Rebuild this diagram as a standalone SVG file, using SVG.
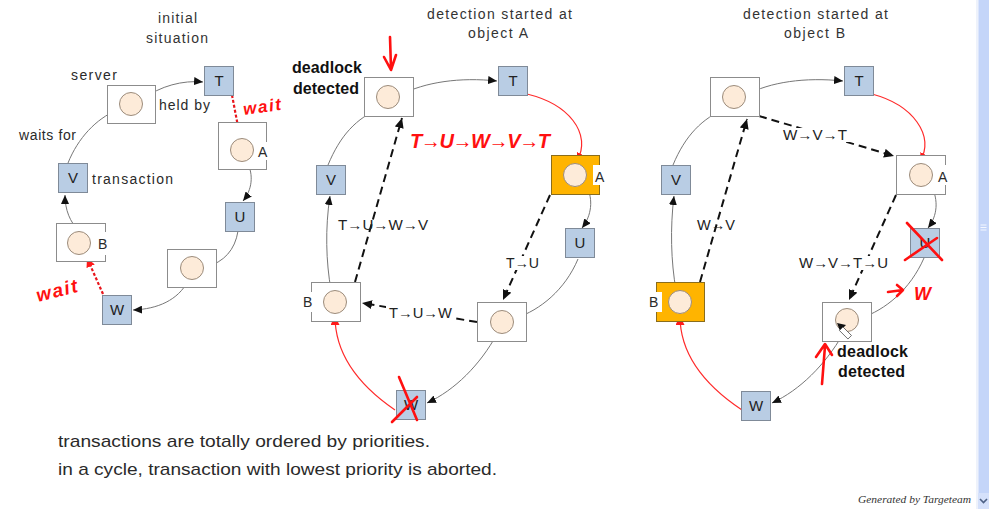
<svg xmlns="http://www.w3.org/2000/svg" width="989" height="509" viewBox="0 0 989 509">
  <style>
    .t { font-family: "Liberation Sans", Arial, sans-serif; fill: #2a2a2a; }
    .title { font-size: 14px; fill: #333; }
    .lbl { font-size: 14px; }
    .bold { font-family: "Liberation Sans", Arial, sans-serif; font-weight: bold; font-size: 16px; fill: #111; }
    .path-lbl { font-family: "Liberation Sans", Arial, sans-serif; font-size: 14px; fill: #222; }
    .srv { fill: #fff; stroke: #8c8c8c; stroke-width: 1; }
    .srv-hot { fill: #ffb400; stroke: #8a6d1c; stroke-width: 1; }
    .obj { fill: #fdebd9; stroke: #9b8b7b; stroke-width: 1; }
    .tx { fill: #b9cde4; stroke: #7f8a98; stroke-width: 1; }
    .txl { font-family: "Liberation Sans", Arial, sans-serif; font-size: 15px; fill: #222; text-anchor: middle; }
    .c { fill: none; stroke: #777; stroke-width: 1; marker-end: url(#ah); }
    .cr { fill: none; stroke: #ff2a2a; stroke-width: 1.2; marker-end: url(#ahr); }
    .dot { fill: none; stroke: #e8161c; stroke-width: 2.2; stroke-dasharray: 3 2; marker-end: url(#ahr); }
    .dash { fill: none; stroke: #111; stroke-width: 2; stroke-dasharray: 8 5; marker-end: url(#ahd); }
    .ink { fill: none; stroke: #ff1010; stroke-width: 2.6; stroke-linecap: round; stroke-linejoin: round; }
    .hand { font-family: "Liberation Sans", Arial, sans-serif; font-style: italic; font-weight: bold; fill: #ff1010; }
  </style>
  <defs>
    <marker id="ah" markerUnits="userSpaceOnUse" markerWidth="10" markerHeight="8" refX="9" refY="4" orient="auto">
      <path d="M0,0 L9,4 L0,8 z" fill="#111"/>
    </marker>
    <marker id="ahr" markerUnits="userSpaceOnUse" markerWidth="10" markerHeight="9" refX="9" refY="4.5" orient="auto">
      <path d="M0,0 L9,4.5 L0,9 z" fill="#ff1a1a"/>
    </marker>
    <marker id="ahd" markerUnits="userSpaceOnUse" markerWidth="11" markerHeight="9" refX="10" refY="4.5" orient="auto">
      <path d="M0,0 L10,4.5 L0,9 z" fill="#111"/>
    </marker>
  </defs>

  <rect x="0" y="0" width="989" height="509" fill="#fff"/>

  <!-- scrollbar -->
  <g id="scrollbar">
    <rect x="976" y="0" width="2" height="509" fill="#eef2fb"/>
    <rect x="978" y="0" width="11" height="509" fill="#c4d5f9"/>
    <rect x="978" y="0" width="1" height="509" fill="#dbe5fc"/>
    <path d="M980.5,225 h6 M980.5,227.5 h6 M980.5,230 h6" stroke="#f4f7ff" stroke-width="1"/>
    <rect x="978" y="493" width="11" height="16" fill="#d5e1fb"/>
    <path d="M980,499 l3.5,3.5 l3.5,-3.5" fill="none" stroke="#4d6185" stroke-width="1.6"/>
  </g>

  <!-- ============ initial situation ============ -->
  <text class="t title" x="158" y="23" textLength="39">initial</text>
  <text class="t title" x="146" y="43" textLength="62">situation</text>

  <g id="connectors-initial">
    <path class="c" d="M143,99 C160,86 183,80 203,82"/>
    <path class="dot" d="M232,95 L240,137"/>
    <path class="c" d="M247,162 C254,175 252,190 243,201"/>
    <path class="c" d="M238,231 C235,250 224,262 206,267"/>
    <path class="c" d="M188,281 C178,300 158,309 133,310"/>
    <path class="dot" d="M103,294 L87,258"/>
    <path class="c" d="M79,231 C70,222 65,210 65,195"/>
    <path class="c" d="M68,163 C78,138 96,119 117,110"/>
  </g>

  <g id="p1-server-top">
    <rect class="srv" x="107.5" y="85.5" width="48" height="38"/>
    <circle class="obj" cx="131" cy="104" r="11.5"/>
  </g>
  <g id="p1-T"><rect class="tx" x="204.5" y="66.5" width="29" height="29"/><text class="txl" x="219" y="86">T</text></g>
  <g id="p1-A">
    <rect class="srv" x="218.5" y="122.5" width="48" height="47"/>
    <rect x="257" y="142" width="12" height="18" fill="#fff"/>
    <circle class="obj" cx="242" cy="150" r="11.5"/>
    <text class="t lbl" x="258" y="157">A</text>
  </g>
  <g id="p1-U"><rect class="tx" x="225.5" y="202.5" width="29" height="29"/><text class="txl" x="240" y="222">U</text></g>
  <g id="p1-server-low">
    <rect class="srv" x="167.5" y="249.5" width="49" height="38"/>
    <circle class="obj" cx="192" cy="268" r="11.5"/>
  </g>
  <g id="p1-W"><rect class="tx" x="102.5" y="295.5" width="29" height="29"/><text class="txl" x="117" y="315">W</text></g>
  <g id="p1-B">
    <rect class="srv" x="56.5" y="223.5" width="49" height="38"/>
    <rect x="96" y="232" width="12" height="23" fill="#fff"/>
    <circle class="obj" cx="79" cy="243" r="11.5"/>
    <text class="t lbl" x="98" y="249">B</text>
  </g>
  <g id="p1-V"><rect class="tx" x="58.5" y="163.5" width="29" height="29"/><text class="txl" x="73" y="183">V</text></g>

  <text class="t lbl" x="71" y="80" textLength="46">server</text>
  <text class="t lbl" x="159" y="110" textLength="51">held by</text>
  <text class="t lbl" x="19" y="140" textLength="57">waits for</text>
  <text class="t lbl" x="92" y="184" textLength="81">transaction</text>

  <text class="hand" x="244" y="115" font-size="17" textLength="38" transform="rotate(-8 244 115)">wait</text>
  <text class="hand" x="38" y="302" font-size="19" textLength="42" transform="rotate(-14 38 302)">wait</text>

  <!-- ============ detection started at object A ============ -->
  <text class="t title" x="427" y="19" textLength="145">detection started at</text>
  <text class="t title" x="468" y="38" textLength="60">object A</text>

  <g id="connectors-a">
    <path class="c" d="M400,95 C425,82 460,77 497,81"/>
    <path class="cr" d="M527,94 C568,104 592,132 577,162"/>
    <path class="c" d="M587,186 C593,200 592,215 582,228"/>
    <path class="c" d="M578,259 C565,290 540,310 516,318"/>
    <path class="c" d="M497,334 C480,365 455,390 427,403"/>
    <path class="cr" d="M395,410 C360,386 335,355 335,316"/>
    <path class="c" d="M331,290 C326,262 325,228 330,196"/>
    <path class="c" d="M328,165 C340,136 356,118 381,108"/>
    <path class="dash" d="M355,282 L402,118"/>
    <path class="dash" d="M550,195 L503,300"/>
    <path class="dash" d="M477,322 L362,303"/>
  </g>

  <g id="p2-server-top">
    <rect class="srv" x="364.5" y="77.5" width="49" height="39"/>
    <circle class="obj" cx="388" cy="97" r="11.5"/>
  </g>
  <g id="p2-T"><rect class="tx" x="498.5" y="66.5" width="29" height="29"/><text class="txl" x="513" y="86">T</text></g>
  <g id="p2-A">
    <rect class="srv-hot" x="551.5" y="155.5" width="48" height="39"/>
    <rect x="593" y="165" width="11" height="20" fill="#fff"/>
    <circle class="obj" cx="575" cy="175" r="11.5"/>
    <text class="t lbl" x="595" y="182">A</text>
  </g>
  <g id="p2-V"><rect class="tx" x="316.5" y="165.5" width="29" height="29"/><text class="txl" x="331" y="185">V</text></g>
  <g id="p2-U"><rect class="tx" x="565.5" y="228.5" width="29" height="29"/><text class="txl" x="580" y="248">U</text></g>
  <g id="p2-B">
    <rect class="srv" x="311.5" y="282.5" width="49" height="39"/>
    <rect x="302" y="292" width="12" height="20" fill="#fff"/>
    <circle class="obj" cx="335" cy="302" r="11.5"/>
    <text class="t lbl" x="303" y="307">B</text>
  </g>
  <g id="p2-server-low">
    <rect class="srv" x="477.5" y="302.5" width="49" height="39"/>
    <circle class="obj" cx="502" cy="322" r="11.5"/>
  </g>
  <g id="p2-W"><rect class="tx" x="396.5" y="390.5" width="29" height="29"/><text class="txl" x="411" y="410">W</text></g>

  <text class="path-lbl" x="338" y="230" textLength="90" lengthAdjust="spacingAndGlyphs">T→U→W→V</text>
  <rect x="503" y="256" width="40" height="14" fill="#fff"/>
  <text class="path-lbl" x="506" y="268" textLength="33" lengthAdjust="spacingAndGlyphs">T→U</text>
  <rect x="386" y="306" width="69" height="14" fill="#fff"/>
  <text class="path-lbl" x="389" y="318" textLength="63" lengthAdjust="spacingAndGlyphs">T→U→W</text>

  <text class="bold" x="292" y="73" textLength="70">deadlock</text>
  <text class="bold" x="293" y="94" textLength="66">detected</text>

  <path class="ink" d="M390,37 L391,69 M384,57 L391,70 L396,55"/>
  <text class="hand" x="410" y="148" font-size="20" textLength="140">T→U→W→V→T</text>
  <path class="ink" d="M399,377 L417,420 M417,397 L392,422"/>

  <!-- ============ detection started at object B ============ -->
  <text class="t title" x="743" y="19" textLength="145">detection started at</text>
  <text class="t title" x="784" y="38" textLength="61">object B</text>

  <g id="connectors-b">
    <path class="c" d="M746,95 C770,82 805,77 843,81"/>
    <path class="cr" d="M872,94 C913,105 935,135 920,162"/>
    <path class="c" d="M932,187 C938,200 938,215 928,228"/>
    <path class="c" d="M924,258 C910,290 885,310 861,318"/>
    <path class="c" d="M843,334 C825,365 800,390 772,403"/>
    <path class="cr" d="M742,410 C706,386 680,355 680,316"/>
    <path class="c" d="M676,290 C671,262 670,228 674,196"/>
    <path class="c" d="M673,165 C685,136 702,118 727,108"/>
    <path class="dash" d="M700,282 L747,119"/>
    <path class="dash" d="M759,116 L894,156"/>
    <path class="dash" d="M896,195 L849,300"/>
  </g>

  <g id="p3-server-top">
    <rect class="srv" x="710.5" y="77.5" width="49" height="39"/>
    <circle class="obj" cx="734" cy="97" r="11.5"/>
  </g>
  <g id="p3-T"><rect class="tx" x="844.5" y="66.5" width="29" height="29"/><text class="txl" x="859" y="86">T</text></g>
  <g id="p3-A">
    <rect class="srv" x="896.5" y="155.5" width="49" height="39"/>
    <rect x="937" y="165" width="12" height="20" fill="#fff"/>
    <circle class="obj" cx="921" cy="175" r="11.5"/>
    <text class="t lbl" x="938" y="182">A</text>
  </g>
  <g id="p3-V"><rect class="tx" x="661.5" y="165.5" width="29" height="29"/><text class="txl" x="676" y="185">V</text></g>
  <g id="p3-B">
    <rect class="srv-hot" x="656.5" y="282.5" width="48" height="39"/>
    <rect x="647" y="292" width="15" height="20" fill="#fff"/>
    <circle class="obj" cx="680" cy="302" r="11.5"/>
    <text class="t lbl" x="649" y="307">B</text>
  </g>
  <g id="p3-U"><rect class="tx" x="910.5" y="228.5" width="29" height="29"/><text class="txl" x="925" y="248">U</text></g>
  <g id="p3-server-low">
    <rect class="srv" x="822.5" y="302.5" width="49" height="39"/>
    <circle class="obj" cx="847" cy="320" r="11.5"/>
    <!-- pointer -->
    <path d="M837,323 L846,325 L840,331 z" fill="#111"/>
    <rect x="843" y="327" width="12" height="5" fill="#fff" stroke="#555" stroke-width="0.8" transform="rotate(45 843 327)"/>
  </g>
  <g id="p3-W"><rect class="tx" x="741.5" y="391.5" width="29" height="29"/><text class="txl" x="756" y="411">W</text></g>

  <rect x="780" y="128" width="70" height="14" fill="#fff"/>
  <text class="path-lbl" x="783" y="140" textLength="64" lengthAdjust="spacingAndGlyphs">W→V→T</text>
  <text class="path-lbl" x="697" y="230" textLength="38" lengthAdjust="spacingAndGlyphs">W→V</text>
  <rect x="796" y="256" width="95" height="14" fill="#fff"/>
  <text class="path-lbl" x="799" y="268" textLength="89" lengthAdjust="spacingAndGlyphs">W→V→T→U</text>

  <text class="bold" x="837" y="357" textLength="71">deadlock</text>
  <text class="bold" x="838" y="377" textLength="67">detected</text>

  <path class="ink" d="M907,223 L942,260 M937,238 L905,260"/>
  <path class="ink" d="M888,292 L903,290 M897,285 L903,290 L897,296"/>
  <text class="hand" x="914" y="300" font-size="18" textLength="21">W</text>
  <path class="ink" stroke-width="3.2" d="M822,384 L825,346 M816,357 L825,344 L832,355"/>

  <!-- ============ notes ============ -->
  <text class="t" x="58" y="447" font-size="17" textLength="372" lengthAdjust="spacingAndGlyphs">transactions are totally ordered by priorities.</text>
  <text class="t" x="58" y="475" font-size="17" textLength="439" lengthAdjust="spacingAndGlyphs">in a cycle, transaction with lowest priority is aborted.</text>
  <text x="858" y="503" font-family="'Liberation Serif', serif" font-style="italic" font-size="10" fill="#333" textLength="113" lengthAdjust="spacingAndGlyphs">Generated by Targeteam</text>
</svg>
